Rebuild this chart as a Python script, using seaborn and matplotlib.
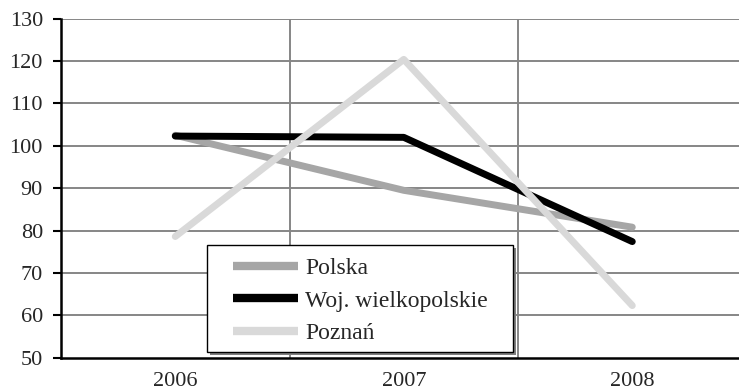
import matplotlib
matplotlib.use("Agg")
import matplotlib.pyplot as plt
from matplotlib.patches import Rectangle
import seaborn as sns
import pandas as pd

years = ["2006", "2007", "2008"]
polska = [102.5, 89.5, 80.8]
wielkopolskie = [102.3, 102.0, 77.4]
poznan = [78.6, 120.4, 62.3]
series_names = ["Polska", "Woj. wielkopolskie", "Poznań"]
y_ticks = [50, 60, 70, 80, 90, 100, 110, 120, 130]

rows = []
for name, vals in zip(series_names, [polska, wielkopolskie, poznan]):
    for i, v in enumerate(vals):
        rows.append({"pos": i, "rok": years[i], "wartość": v, "seria": name})
df = pd.DataFrame(rows)

sns.set_style("white")
plt.rcParams["font.family"] = ["Liberation Serif", "DejaVu Serif"]

fig = plt.figure(figsize=(7.39, 3.91), dpi=100)
W, H = 739, 391
ax = fig.add_axes([61 / W, (H - 357.7) / H, 1 - 61 / W, (357.7 - 18.7) / H])

palette = {"Polska": "#a6a6a6", "Woj. wielkopolskie": "#000000", "Poznań": "#d9d9d9"}
sns.lineplot(data=df, x="pos", y="wartość", hue="seria", hue_order=series_names,
             palette=palette, linewidth=5, ax=ax, legend=False,
             solid_capstyle="round", solid_joinstyle="round", zorder=3)

ax.set_xlim(-0.5, 2.467)
ax.set_ylim(50, 130)
ax.set_yticks(y_ticks)
ax.set_xticks([0, 1, 2])
ax.set_xticklabels(years)
ax.set_xlabel("")
ax.set_ylabel("")

# horizontal grid at every tick, vertical separators between categories
for y in y_ticks[1:]:
    ax.axhline(y, color="#868686", linewidth=1.4, zorder=1)
for x in [0.5, 1.5, 2.5]:
    ax.axvline(x, color="#868686", linewidth=1.4, zorder=1)

for side in ["top", "right"]:
    ax.spines[side].set_visible(False)
ax.spines["left"].set_color("black")
ax.spines["left"].set_linewidth(1.8)
ax.spines["bottom"].set_color("black")
ax.spines["bottom"].set_linewidth(1.8)
ax.tick_params(axis="y", which="both", left=True, length=6, width=1.5,
               color="black", labelsize=16, pad=7)
ax.tick_params(axis="x", bottom=False, labelsize=16, pad=7)

# legend box with a drop shadow, drawn in figure pixels
box_x0, box_y0, box_x1, box_y1 = 207, 245, 513, 352
shadow = Rectangle((box_x0 + 3, H - box_y1 - 3), box_x1 - box_x0, box_y1 - box_y0,
                   transform=None, facecolor="#7f7f7f", edgecolor="none", zorder=6)
frame = Rectangle((box_x0, H - box_y1), box_x1 - box_x0, box_y1 - box_y0,
                  transform=None, facecolor="white", edgecolor="black",
                  linewidth=1.0, zorder=7)
fig.add_artist(shadow)
fig.add_artist(frame)

handles = [plt.Line2D([], [], color=palette[n], linewidth=6, solid_capstyle="butt")
           for n in series_names]
leg = fig.legend(handles, series_names, loc="upper left",
                 bbox_to_anchor=(233 / W, 1 - 257.5 / H), frameon=False,
                 fontsize=17, handlelength=2.75, handletextpad=0.3,
                 borderpad=0, labelspacing=0.47, borderaxespad=0)
leg.set_zorder(8)

fig.savefig("out.png", dpi=100)
